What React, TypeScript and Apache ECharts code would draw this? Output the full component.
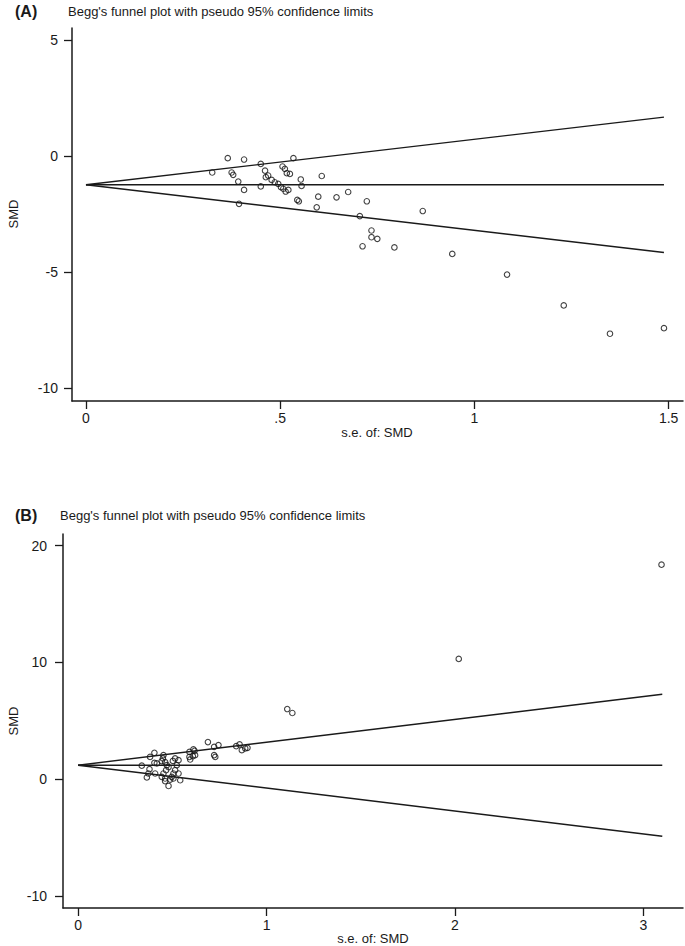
import React, { useEffect, useRef } from "react";
import * as echarts from "echarts";

// Panel A: standard error of SMD and SMD for each study
const seA = [0.325, 0.365, 0.375, 0.379, 0.392, 0.394, 0.407, 0.407, 0.45, 0.45, 0.461, 0.463, 0.469, 0.478, 0.486, 0.495, 0.502, 0.508, 0.514, 0.521, 0.506, 0.512, 0.517, 0.525, 0.534, 0.553, 0.555, 0.544, 0.548, 0.598, 0.594, 0.607, 0.645, 0.675, 0.723, 0.705, 0.867, 0.735, 0.735, 0.75, 0.712, 0.794, 0.943, 1.084, 1.23, 1.349, 1.488];
const smdA = [-0.71, -0.09, -0.71, -0.81, -1.1, -2.06, -1.46, -0.15, -0.34, -1.31, -0.63, -0.91, -0.84, -1.03, -1.13, -1.2, -1.34, -1.41, -1.53, -1.46, -0.45, -0.55, -0.74, -0.77, -0.09, -1.01, -1.29, -1.89, -1.95, -1.75, -2.21, -0.86, -1.78, -1.55, -1.95, -2.59, -2.37, -3.21, -3.5, -3.57, -3.89, -3.94, -4.22, -5.11, -6.44, -7.66, -7.42];

// Panel B
const seB = [0.338, 0.379, 0.373, 0.365, 0.382, 0.405, 0.418, 0.405, 0.409, 0.453, 0.45, 0.444, 0.462, 0.471, 0.48, 0.467, 0.453, 0.444, 0.462, 0.489, 0.497, 0.506, 0.515, 0.524, 0.533, 0.515, 0.503, 0.48, 0.506, 0.542, 0.533, 0.462, 0.591, 0.612, 0.618, 0.591, 0.609, 0.595, 0.621, 0.689, 0.722, 0.745, 0.722, 0.728, 0.839, 0.857, 0.869, 0.887, 0.899, 1.11, 1.137, 2.02, 3.096];
const smdB = [1.16, 0.86, 0.49, 0.15, 1.91, 2.26, 1.35, 1.4, 0.49, 2.06, 1.78, 1.55, 1.46, 1.2, 1.03, 0.77, 0.49, 0.2, 0.06, -0.03, 0.2, 0.49, 0.77, 1.2, 1.63, 1.78, 1.57, -0.58, 0.06, -0.09, 0.49, -0.17, 2.34, 2.55, 2.43, 1.91, 1.97, 1.69, 2.06, 3.18, 2.77, 2.92, 2.06, 1.91, 2.83, 2.98, 2.49, 2.64, 2.69, 6.01, 5.67, 10.3, 18.37];

// Pseudo 95% confidence limits (end points)
const limitSeA = [0, 1.488];
const centerA = [-1.24, -1.24];
const upperA = [-1.24, 1.68];
const lowerA = [-1.24, -4.16];
const limitSeB = [0, 3.1];
const centerB = [1.2, 1.2];
const upperB = [1.2, 7.28];
const lowerB = [1.2, -4.88];

const xTicksA = [0, 0.5, 1, 1.5];
const yTicksA = [-10, -5, 0, 5];
const xTicksB = [0, 1, 2, 3];
const yTicksB = [-10, 0, 10, 20];

const TITLE = "Begg's funnel plot with pseudo 95% confidence limits";
const XNAME = "s.e. of: SMD";
const YNAME = "SMD";

const FONT = "'Liberation Sans', Arial, sans-serif";
const INK = "#1a1a1a";

const pairs = (xs: number[], ys: number[]) => xs.map((x, i) => [x, ys[i]]);

const fmtX = (v: number) => {
  if (v === 0) return "0";
  const s = String(v);
  return s.startsWith("0.") ? s.slice(1) : s;
};

function xAxisCfg(gridIndex: number, min: number, max: number, ticks: number[]) {
  return {
    type: "value",
    gridIndex,
    min,
    max,
    axisLine: { show: true, onZero: false, lineStyle: { color: INK, width: 1.5 } },
    axisTick: { show: true, length: 8, customValues: ticks, lineStyle: { color: INK, width: 1.3 } },
    axisLabel: { customValues: ticks, formatter: fmtX, color: INK, fontSize: 14, fontFamily: FONT, margin: 10 },
    splitLine: { show: false },
  };
}

function yAxisCfg(gridIndex: number, min: number, max: number, ticks: number[], margin: number) {
  return {
    type: "value",
    gridIndex,
    min,
    max,
    axisLine: { show: true, onZero: false, lineStyle: { color: INK, width: 1.5 } },
    axisTick: { show: true, length: 8, customValues: ticks, lineStyle: { color: INK, width: 1.3 } },
    axisLabel: { customValues: ticks, color: INK, fontSize: 14, fontFamily: FONT, margin },
    splitLine: { show: false },
  };
}

const lineSeries = (idx: number, xs: number[], ys: number[]) => ({
  type: "line",
  xAxisIndex: idx,
  yAxisIndex: idx,
  data: pairs(xs, ys),
  showSymbol: false,
  silent: true,
  lineStyle: { color: INK, width: 1.4 },
});

const scatterSeries = (idx: number, xs: number[], ys: number[]) => ({
  type: "scatter",
  xAxisIndex: idx,
  yAxisIndex: idx,
  data: pairs(xs, ys),
  symbol: "circle",
  symbolSize: 5.5,
  itemStyle: { color: "rgba(255,255,255,0)", borderColor: "#111", borderWidth: 1.1 },
});

export default function App() {
  const ref = useRef<HTMLDivElement>(null);
  useEffect(() => {
    if (!ref.current) return;
    const chart = echarts.init(ref.current, null, { renderer: "svg" });
    const txt = (x: number, y: number, text: string, extra: any = {}) => ({
      type: "text",
      x,
      y,
      rotation: extra.rotation || 0,
      style: {
        text,
        x: 0,
        y: 0,
        fill: INK,
        font: extra.font || `13px ${FONT}`,
        textAlign: extra.align || "left",
        textVerticalAlign: "middle",
      },
    });
    chart.setOption({
      animation: false,
      backgroundColor: "#ffffff",
      grid: [
        { left: 72, top: 28, right: 2, bottom: 545 },
        { left: 63, top: 534, right: 2, bottom: 38 },
      ],
      xAxis: [xAxisCfg(0, -0.036, 1.537, xTicksA), xAxisCfg(1, -0.08, 3.21, xTicksB)],
      yAxis: [yAxisCfg(0, -10.56, 5.52, yTicksA, 14), yAxisCfg(1, -11.03, 21.0, yTicksB, 16)],
      series: [
        lineSeries(0, limitSeA, centerA),
        lineSeries(0, limitSeA, upperA),
        lineSeries(0, limitSeA, lowerA),
        scatterSeries(0, seA, smdA),
        lineSeries(1, limitSeB, centerB),
        lineSeries(1, limitSeB, upperB),
        lineSeries(1, limitSeB, lowerB),
        scatterSeries(1, seB, smdB),
      ],
      graphic: [
        txt(15, 11, "(A)", { font: `bold 16px ${FONT}` }),
        txt(68, 11, TITLE, { font: `13px ${FONT}` }),
        txt(15, 515, "(B)", { font: `bold 16px ${FONT}` }),
        txt(60, 515, TITLE, { font: `13px ${FONT}` }),
        txt(13, 214, YNAME, { rotation: Math.PI / 2, align: "center", font: `13px ${FONT}` }),
        txt(13, 721, YNAME, { rotation: Math.PI / 2, align: "center", font: `13px ${FONT}` }),
        txt(377, 432, XNAME, { align: "center", font: `13px ${FONT}` }),
        txt(373, 938, XNAME, { align: "center", font: `13px ${FONT}` }),
      ],
    });
    return () => chart.dispose();
  }, []);
  return (
    <div
      ref={ref}
      style={{ position: "fixed", left: 0, top: 0, width: 685, height: 946, background: "#fff" }}
    />
  );
}
